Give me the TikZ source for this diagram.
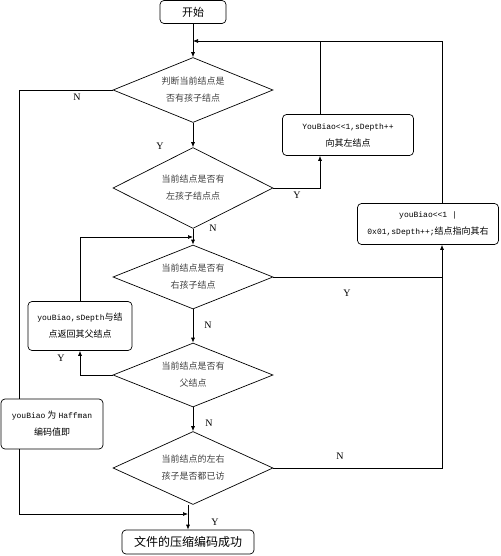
\documentclass[tikz,border=0pt]{standalone}
\usepackage{fontspec}
\setmainfont{Noto Sans CJK SC}
\setmonofont{Liberation Mono}
\newfontfamily\lbl{Liberation Serif}
\usetikzlibrary{shapes.geometric, arrows.meta}
\newcommand{\mono}[1]{{\ttfamily\fontsize{8}{17}\selectfont #1}}

\begin{document}
\begin{tikzpicture}[x=1pt, y=-1pt, line width=0.7pt,
    box/.style={draw, rounded corners=4pt, align=center, inner sep=1pt, font=\fontsize{9}{17}\selectfont},
    choice/.style={draw, diamond, aspect=2.4, inner sep=0pt, align=center, text=black!75, font=\fontsize{9}{17}\selectfont},
    yn/.style={font=\lbl\fontsize{10}{10}\selectfont},
    arr/.style={-{Latex[length=5pt,width=4pt]}}]
    \useasboundingbox (0,0) rectangle (500,556);

        % boxes
        \node (start)[box, minimum width=66pt, minimum height=23pt, font=\fontsize{11}{11}\selectfont] at (193,12) {开始};
        \node (left)[box, minimum width=131pt, minimum height=41pt] at (348,135) {\mono{YouBiao<<1,sDepth++}\\向其左结点};
        \node (right)[box, minimum width=141pt, minimum height=41pt] at (428,224) {\mono{youBiao<<1 |}\\\mono{0x01,sDepth++;}结点指向其右};
        \node (back)[box, minimum width=104pt, minimum height=49pt] at (80,326) {\mono{youBiao,sDepth}与结\\点返回其父结点};
        \node (code)[box, minimum width=102pt, minimum height=50pt] at (52,424) {\mono{youBiao} 为 \mono{Haffman}\\编码值即};
        \node (end)[box, minimum width=132pt, minimum height=24pt, font=\fontsize{12}{12}\selectfont] at (188,542) {文件的压缩编码成功};

        % decisions
        \node (d1)[choice, minimum width=160pt, minimum height=65pt] at (193,90) {判断当前结点是\\否有孩子结点};
        \node (d2)[choice, minimum width=160pt, minimum height=81pt] at (193,188) {当前结点是否有\\左孩子结点点};
        \node (d3)[choice, minimum width=160pt, minimum height=64pt] at (193,277) {当前结点是否有\\右孩子结点};
        \node (d4)[choice, minimum width=160pt, minimum height=64pt] at (193,375) {当前结点是否有\\父结点};
        \node (d5)[choice, minimum width=160pt, minimum height=73pt] at (193,468) {当前结点的左右\\孩子是否都已访};

        % joints
        \coordinate (top) at (193,41);
        \coordinate (j1) at (193,237);
        \coordinate (j2) at (188,514);
        \coordinate (lx) at (19,0);
        \coordinate (mx) at (320,0);
        \coordinate (rx) at (442,0);

        \draw[arr] (start) -- (d1);
        \draw[arr] (d1) -- (d2);
        \draw[arr] (d2) -- (d3);
        \draw[arr] (d3) -- (d4);
        \draw[arr] (d4) -- (d5);
        \draw[arr] (d5.south -| j2) -- (end);

        \draw[arr] (d2.east) -| (mx |- left.south);
        \draw (mx |- left.north) -- (mx |- top);
        \draw[arr] (rx |- right.north) |- (top);
        \draw (d3.east) -- (d3.east -| rx);
        \draw[arr] (d5.east) -| (rx |- right.south);
        \draw[arr] (d4.west) -| (back.south);
        \draw[arr] (back.north) |- (j1);
        \draw (d1.west) -| (lx |- code.north);
        \draw[arr] (lx |- code.south) |- (j2);

        % labels
        \node (n1)[yn] at (77,97) {N};
        \node (y1)[yn] at (160,146) {Y};
        \node (y2)[yn] at (297,195) {Y};
        \node (n2)[yn] at (213,228) {N};
        \node (y3)[yn] at (347,293) {Y};
        \node (n3)[yn] at (208,325) {N};
        \node (y4)[yn] at (61,358) {Y};
        \node (n4)[yn] at (209,423) {N};
        \node (n5)[yn] at (340,456) {N};
        \node (y5)[yn] at (215,522) {Y};

    \end{tikzpicture}
\end{document}
